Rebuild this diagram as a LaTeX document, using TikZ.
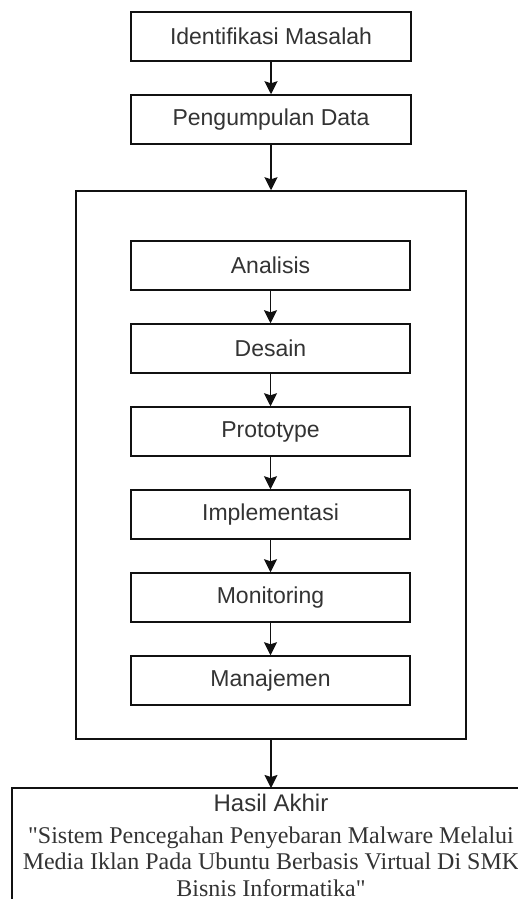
\documentclass[tikz,border=0pt]{standalone}
\usepackage{fontspec}
\setmainfont{Liberation Sans}
\newfontfamily\serifq{Liberation Serif}
\usetikzlibrary{arrows.meta}
\definecolor{txt}{HTML}{333333}
\definecolor{ln}{HTML}{111111}
\tikzset{
  stepbox/.style={draw=ln, line width=1.5pt, fill=white, minimum width=280pt, minimum height=49pt,
    inner sep=0pt, text=txt, font=\fontsize{23}{27}\selectfont},
  conn/.style={draw=ln, line width=1.5pt, -{Stealth[length=13pt,width=13pt,inset=2pt]}}
}
\begin{document}
\begin{tikzpicture}[x=1pt,y=-1pt]
\useasboundingbox (0,0) rectangle (518,899);
\clip (0,0) rectangle (518,899);
\node[stepbox] (id) at (271,36.5) {Identifikasi Masalah};
\node[stepbox] (pd) at (271,119.5) {Pengumpulan Data};
\node[draw=ln, line width=1.5pt, minimum width=390pt, minimum height=548pt, inner sep=0pt] (frame) at (271,465) {};
\node[stepbox, minimum width=279pt] (an) at (270.5,265.5) {Analisis};
\node[stepbox, minimum width=279pt] (de) at (270.5,348.5) {Desain};
\node[stepbox, minimum width=279pt] (pr) at (270.5,431.5) {Prototype};
\node[stepbox, minimum width=279pt] (im) at (270.5,514.5) {Implementasi};
\node[stepbox, minimum width=279pt] (mo) at (270.5,597.5) {Monitoring};
\node[stepbox, minimum width=279pt] (ma) at (270.5,680.5) {Manajemen};
\node[minimum width=518pt, minimum height=140pt, inner sep=0pt, outer sep=0pt] (hasil) at (271,858) {};
\draw[ln, line width=1.5pt] (hasil.south west) -- (hasil.north west) -- (hasil.north east);
\node[anchor=base, inner sep=0pt, text=txt, font=\fontsize{24}{27}\selectfont] (judul) at (271,811) {Hasil Akhir};
\node[anchor=north, inner sep=0pt, align=center, text=txt, font=\serifq\fontsize{24}{26.5}\selectfont] (kutip) at (271,826.6)
  {"Sistem Pencegahan Penyebaran Malware Melalui\\Media Iklan Pada Ubuntu Berbasis Virtual Di SMK\\Bisnis Informatika"};
\draw[conn] (id) -- (pd);
\draw[conn] (pd) -- (frame.north -| pd);
\draw[conn] (an) -- (de);
\draw[conn] (de) -- (pr);
\draw[conn] (pr) -- (im);
\draw[conn] (im) -- (mo);
\draw[conn] (mo) -- (ma);
\draw[conn] (frame.south) -- (hasil.north -| frame.south);
\end{tikzpicture}
\end{document}
